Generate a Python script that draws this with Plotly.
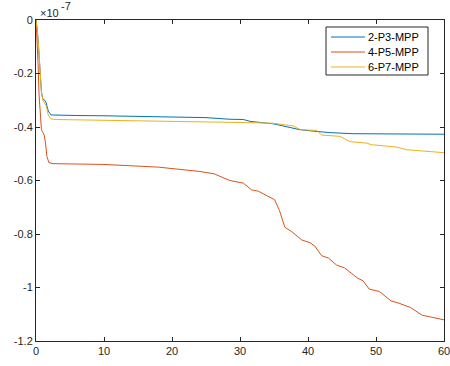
import plotly.graph_objects as go

# values in units of 1e-7
x_blue = [0, 0.2, 0.4, 0.6, 0.8, 1.0, 1.3, 1.5, 1.8, 2.2, 3, 6, 10, 15, 20, 25, 28.5, 30.5, 31.5, 33, 34.9, 36.3, 37.5, 38.8, 41, 43.2, 46.6, 50, 55, 60]
y_blue = [0, -0.04, -0.11, -0.19, -0.27, -0.295, -0.30, -0.31, -0.34, -0.355, -0.356, -0.357, -0.358, -0.36, -0.362, -0.365, -0.371, -0.372, -0.379, -0.382, -0.388, -0.396, -0.402, -0.41, -0.416, -0.421, -0.425, -0.426, -0.426, -0.427]

x_orange = [0, 0.15, 0.3, 0.45, 0.6, 0.8, 1.0, 1.2, 1.4, 1.6, 1.9, 2.5, 5, 10, 14, 18, 21, 24, 26.2, 28.5, 30.5, 31.7, 32.7, 33.9, 35.1, 35.8, 36.6, 37.6, 39.1, 40.3, 41, 42, 43, 44.2, 45.4, 47.3, 48.1, 49, 50.5, 52.2, 53.4, 55.1, 56.8, 58, 60]
y_orange = [0, -0.06, -0.16, -0.28, -0.36, -0.41, -0.42, -0.43, -0.46, -0.51, -0.533, -0.537, -0.538, -0.54, -0.545, -0.55, -0.558, -0.566, -0.575, -0.6, -0.61, -0.635, -0.64, -0.656, -0.672, -0.712, -0.775, -0.791, -0.8225, -0.8325, -0.845, -0.881, -0.89, -0.916, -0.927, -0.965, -0.975, -1.006, -1.015, -1.05, -1.059, -1.075, -1.104, -1.11, -1.121]

x_yellow = [0, 0.2, 0.4, 0.6, 0.8, 1.0, 1.3, 1.5, 1.8, 2.2, 3, 6, 10, 15, 20, 25, 28.5, 32, 34.9, 36.5, 37.8, 38.9, 41.3, 42, 44.7, 46.2, 48.6, 49.3, 53, 54.5, 57, 60]
y_yellow = [0, -0.04, -0.11, -0.19, -0.27, -0.30, -0.31, -0.32, -0.355, -0.37, -0.372, -0.373, -0.374, -0.376, -0.378, -0.38, -0.382, -0.384, -0.386, -0.392, -0.396, -0.41, -0.413, -0.43, -0.435, -0.455, -0.46, -0.466, -0.475, -0.485, -0.49, -0.496]

names = ["2-P3-MPP", "4-P5-MPP", "6-P7-MPP"]
colors = ["#0072BD", "#D95319", "#EDB120"]

x_ticks = [0, 10, 20, 30, 40, 50, 60]
y_ticks = [0, -0.2, -0.4, -0.6, -0.8, -1, -1.2]
y_ticktext = ["0", "-0.2", "-0.4", "-0.6", "-0.8", "-1", "-1.2"]

W, H = 450, 366
ML, MR, MT, MB = 36, 6, 20, 25
PW, PH = W - ML - MR, H - MT - MB


def px(xp):
    return (xp - ML) / PW


def py(yp):
    return (H - MB - yp) / PH


fig = go.Figure()
for xs, ys, n, c in zip([x_blue, x_orange, x_yellow], [y_blue, y_orange, y_yellow], names, colors):
    fig.add_trace(go.Scatter(x=xs, y=ys, mode="lines", name=n, line=dict(color=c, width=1),
                             showlegend=False))

axcol = "#262626"
shapes = [dict(type="rect", xref="paper", yref="paper", x0=px(326), x1=px(428), y0=py(75), y1=py(27),
               line=dict(color=axcol, width=1), fillcolor="white", layer="above")]
annotations = [
    dict(text="×10", xref="paper", yref="paper", x=px(38), y=py(13),
         xanchor="left", yanchor="middle", showarrow=False,
         font=dict(size=11, color=axcol)),
    dict(text="-7", xref="paper", yref="paper", x=px(58.5), y=py(5.5),
         xanchor="left", yanchor="middle", showarrow=False,
         font=dict(size=11, color=axcol)),
]
for i, (n, c) in enumerate(zip(names, colors)):
    yc = 37 + 15 * i
    shapes.append(dict(type="line", xref="paper", yref="paper", x0=px(331), x1=px(365),
                       y0=py(yc), y1=py(yc), line=dict(color=c, width=1), layer="above"))
    annotations.append(dict(text=n, xref="paper", yref="paper", x=px(366), y=py(yc),
                            xanchor="left", yanchor="middle", showarrow=False,
                            font=dict(size=11, color="black")))

fig.update_layout(
    width=W, height=H,
    margin=dict(l=ML, r=MR, t=MT, b=MB),
    paper_bgcolor="white", plot_bgcolor="white",
    font=dict(family="Liberation Sans, Arial, sans-serif", size=11, color=axcol),
    showlegend=False,
    xaxis=dict(range=[0, 60], tickvals=x_ticks, ticks="inside", ticklen=4,
               showline=True, mirror="allticks", linecolor=axcol, linewidth=1,
               tickcolor=axcol, showgrid=False, zeroline=False, automargin=False,
               ticklabeloverflow="allow"),
    yaxis=dict(range=[-1.2, 0], tickvals=y_ticks, ticktext=y_ticktext, ticks="inside", ticklen=4,
               showline=True, mirror="allticks", linecolor=axcol, linewidth=1,
               tickcolor=axcol, showgrid=False, zeroline=False, automargin=False,
               ticklabeloverflow="allow"),
    shapes=shapes,
    annotations=annotations,
)
fig.write_html("out.html", config={"displayModeBar": False},
               post_script="document.body.style.margin='0';document.body.style.overflow='hidden';")
